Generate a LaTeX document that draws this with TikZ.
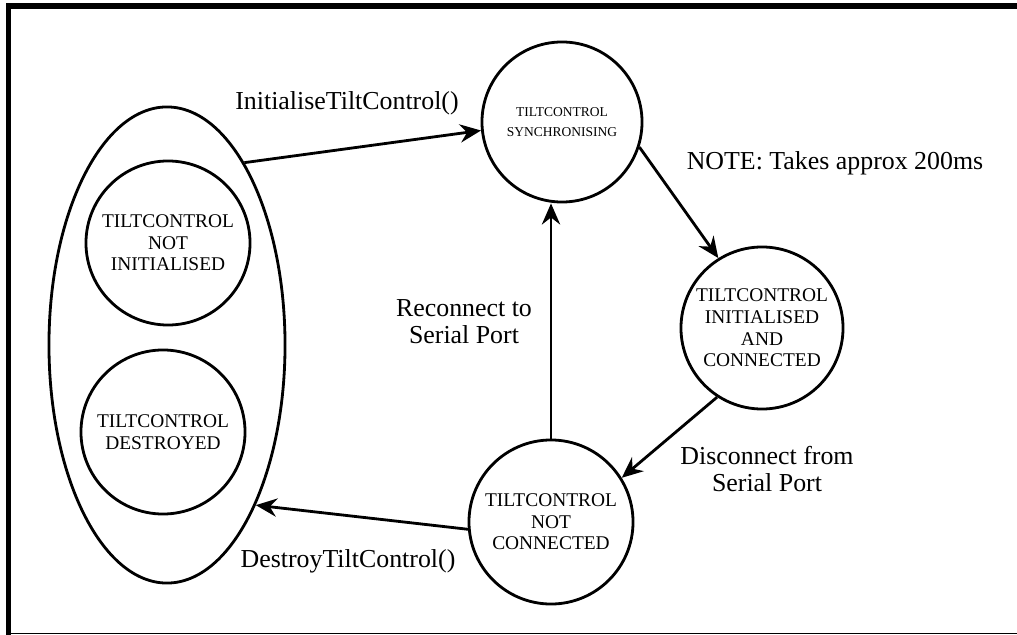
\documentclass[tikz,border=0pt]{standalone}
\usepackage{fontspec}
\setmainfont{Liberation Serif}
\usetikzlibrary{arrows.meta, shapes.geometric}
\tikzstyle{state_node} = [
    circle, 
    draw=black, 
    line width=2pt, 
    align=center, 
    inner sep=0pt, 
    minimum size=4.1cm, 
    font=\fontsize{13.8}{15.4}\selectfont
]
\tikzstyle{group_node} = [
    ellipse, 
    draw=black, 
    line width=2pt, 
    inner sep=0pt, 
    minimum width=5.9cm, 
    minimum height=11.9cm
]
\tikzstyle{edge_label} = [
    align=center, 
    inner sep=0pt, 
    font=\fontsize{18.4}{19.2}\selectfont
]
\tikzstyle{trans} = [
    line width=2pt, 
    -{Stealth[length=15pt, width=13pt, inset=5pt]}
]

\begin{document}
\begin{tikzpicture}[x=0.025cm, y=-0.025cm]
\useasboundingbox (0,0) rectangle (1017,635);
% frame
\draw [line width=3.6pt] (8.5,635) -- (8.5,6) -- (1017,6);
\draw [line width=1pt] (8.5,633.5) -- (1017,633.5);

% states
\node [group_node] (outer) at (167,345) {};
\node [state_node] (notinit) at (168,243) {TILTCONTROL\\NOT\\INITIALISED};
\node [state_node] (destroyed) at (163,432) {TILTCONTROL\\DESTROYED};
\node [state_node, minimum size=4cm, font=\fontsize{9.6}{14}\selectfont] (sync) at (562,122) {TILTCONTROL\\SYNCHRONISING};
\node [state_node, minimum size=4.05cm] (conn) at (762,328) {TILTCONTROL\\INITIALISED\\AND\\CONNECTED};
\node [state_node] (notconn) at (551,522) {TILTCONTROL\\NOT\\CONNECTED};

% transitions
\draw [trans] (outer.67.5) -- (sync.186);
\draw [trans] (sync.-18) -- (conn.122);
\draw [trans] (conn.-123) -- (notconn.32);
\draw [trans] (notconn.north) -- (notconn.north |- sync.south);
\draw [trans] (notconn.185) -- (outer.-61.5);

% labels
\node [edge_label, anchor=base] (initlabel) at (347,110) {InitialiseTiltControl()};
\node [edge_label, anchor=base] (notelabel) at (835,170) {NOTE: Takes approx 200ms};
\node [edge_label] (reconlabel) at (464,322) {Reconnect to\\Serial Port};
\node [edge_label] (disconlabel) at (767,469) {Disconnect from\\Serial Port};
\node [edge_label, anchor=base] (destroylabel) at (348,567) {DestroyTiltControl()};
\end{tikzpicture}
\end{document}
